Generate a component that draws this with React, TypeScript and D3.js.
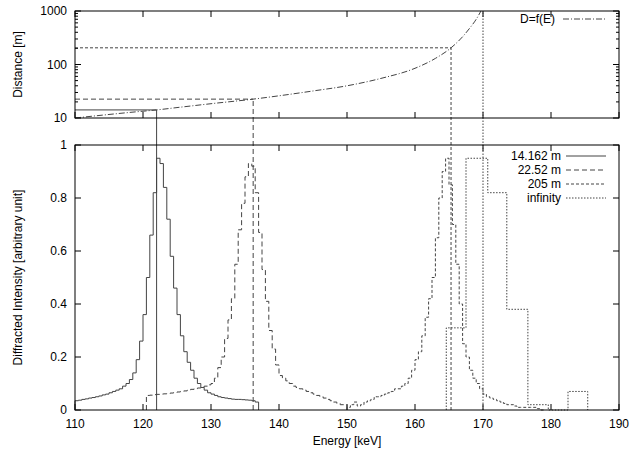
import * as d3 from "d3";
import React from "react";

// histogram series: start energy, bin width 0.5 keV, values
const s1Start = 110;
const s1 = [0.035,0.037,0.04,0.042,0.045,0.047,0.05,0.053,0.057,0.06,0.065,0.07,0.075,0.08,0.09,0.1,0.115,0.14,0.19,0.26,0.36,0.5,0.66,0.82,0.95,0.93,0.84,0.72,0.58,0.46,0.36,0.28,0.22,0.18,0.15,0.12,0.1,0.085,0.075,0.065,0.06,0.055,0.05,0.047,0.045,0.043,0.041,0.04,0.04,0.039,0.038,0.037,0.035,0.03];
const s2Start = 120.5;
const s2 = [0.055,0.056,0.058,0.059,0.06,0.061,0.062,0.064,0.066,0.068,0.07,0.072,0.075,0.078,0.08,0.083,0.086,0.09,0.095,0.1,0.12,0.16,0.2,0.27,0.34,0.42,0.55,0.68,0.78,0.88,0.93,0.92,0.82,0.67,0.53,0.41,0.3,0.23,0.17,0.13,0.12,0.11,0.1,0.09,0.085,0.08,0.075,0.07,0.065,0.06,0.055,0.05,0.045,0.04,0.035,0.03,0.025,0.02,0.02];
const s3Start = 150;
const s3 = [0.01,0.02,0.03,0.015,0.02,0.03,0.035,0.04,0.05,0.05,0.055,0.06,0.065,0.07,0.08,0.08,0.09,0.1,0.12,0.15,0.19,0.22,0.28,0.35,0.42,0.5,0.65,0.8,0.9,0.95,0.85,0.7,0.55,0.4,0.25,0.2,0.15,0.12,0.1,0.08,0.06,0.05,0.045,0.04,0.035,0.03,0.025,0.02,0.02,0.015,0.01,0.01,0.01,0.01,0.01,0.01,0.005,0];
const infEdges = [164.6, 167.5, 170.7, 173.5, 176.6, 179.6, 182.5, 185.4];
const infValues = [0.31, 0.95, 0.82, 0.38, 0.02, 0, 0.07];

// D=f(E) curve, read points
const curve: [number, number][] = [[110,10],[114,11.3],[118,12.7],[122,14.162],[126,16.2],[130,18.5],[136.2,22.52],[140,26],[145,32],[150,40],[155,55],[160,85],[163,130],[165.3,205],[167,330],[168,470],[169,700],[169.7,1000]];

const markers = [
  { e: 122, d: 14.162, dash: "", label: "14.162 m" },
  { e: 136.2, d: 22.52, dash: "5,3", label: "22.52 m" },
  { e: 165.3, d: 205, dash: "3,2", label: "205 m" },
  { e: 170, d: 1000, dash: "1.5,1.5", label: "infinity" },
];

const xTicks = [110,120,130,140,150,160,170,180,190];
const yTicks = [0,0.2,0.4,0.6,0.8,1];
const dTicks = [10,100,1000];

const L = 75, R = 619, T1 = 11, B1 = 118, T2 = 145, B2 = 410;
const font = "Liberation Sans, Arial, sans-serif";
const grey = "#444";

function stepPath(start: number, vals: number[], x: any, y: any) {
  let p = `M${x(start)},${y(0)}`;
  vals.forEach((v, i) => {
    p += `L${x(start + i * 0.5)},${y(v)}L${x(start + (i + 1) * 0.5)},${y(v)}`;
  });
  p += `L${x(start + vals.length * 0.5)},${y(0)}`;
  return p;
}

export default function App() {
  const x = d3.scaleLinear().domain([110, 190]).range([L, R]);
  const y = d3.scaleLinear().domain([0, 1]).range([B2, T2]);
  const yd = d3.scaleLog().domain([10, 1000]).range([B1, T1]);

  let infPath = `M${x(infEdges[0])},${y(0)}`;
  infValues.forEach((v, i) => {
    infPath += `L${x(infEdges[i])},${y(v)}L${x(infEdges[i + 1])},${y(v)}`;
  });
  infPath += `L${x(infEdges[infEdges.length - 1])},${y(0)}`;

  const curvePath = d3.line<[number, number]>().x((d) => x(d[0])).y((d) => yd(d[1])).curve(d3.curveMonotoneX)(curve)!;

  const minor: number[] = [];
  [10, 100].forEach((b) => { for (let k = 2; k < 10; k++) minor.push(b * k); });

  const series = [
    { d: stepPath(s1Start, s1, x, y), dash: "" },
    { d: stepPath(s2Start, s2, x, y), dash: "5,3" },
    { d: stepPath(s3Start, s3, x, y), dash: "3,2" },
    { d: infPath, dash: "1.5,1.5" },
  ];

  return (
    <svg width={640} height={453} style={{ position: "absolute", left: 0, top: 0, background: "#fff" }} fontFamily={font} fontSize={12}>
      <rect width={640} height={453} fill="#fff" />
      <g stroke="#000" strokeWidth={1}>
        {xTicks.map((t) => (
          <g key={t}>
            <line x1={x(t)} x2={x(t)} y1={B1} y2={B1 - 6} />
            <line x1={x(t)} x2={x(t)} y1={T1} y2={T1 + 6} />
            <line x1={x(t)} x2={x(t)} y1={B2} y2={B2 - 6} />
            <line x1={x(t)} x2={x(t)} y1={T2} y2={T2 + 6} />
          </g>
        ))}
        {dTicks.map((t) => (
          <g key={t}>
            <line x1={L} x2={L + 6} y1={yd(t)} y2={yd(t)} />
            <line x1={R} x2={R - 6} y1={yd(t)} y2={yd(t)} />
          </g>
        ))}
        {minor.map((t) => (
          <g key={t}>
            <line x1={L} x2={L + 3} y1={yd(t)} y2={yd(t)} />
            <line x1={R} x2={R - 3} y1={yd(t)} y2={yd(t)} />
          </g>
        ))}
        {yTicks.map((t) => (
          <g key={t}>
            <line x1={L} x2={L + 6} y1={y(t)} y2={y(t)} />
            <line x1={R} x2={R - 6} y1={y(t)} y2={y(t)} />
          </g>
        ))}
      </g>
      {dTicks.map((t) => (
        <text key={t} x={L - 8} y={yd(t) + 4} textAnchor="end">{t}</text>
      ))}
      {yTicks.map((t) => (
        <text key={t} x={L - 8} y={y(t) + 4} textAnchor="end">{t}</text>
      ))}
      {xTicks.map((t) => (
        <text key={t} x={x(t)} y={B2 + 18} textAnchor="middle">{t}</text>
      ))}
      <text transform={`translate(22,${(T1 + B1) / 2}) rotate(-90)`} textAnchor="middle">Distance [m]</text>
      <text transform={`translate(22,${(T2 + B2) / 2}) rotate(-90)`} textAnchor="middle">Diffracted Intensity [arbitrary unit]</text>
      <text x={(L + R) / 2} y={445} textAnchor="middle">Energy [keV]</text>

      {markers.map((m) => (
        <g key={m.label} stroke={grey} strokeWidth={1} strokeDasharray={m.dash} fill="none">
          <line x1={x(m.e)} x2={x(m.e)} y1={B2} y2={yd(m.d)} />
          {m.d < 1000 && <line x1={L} x2={x(m.e)} y1={yd(m.d)} y2={yd(m.d)} />}
        </g>
      ))}
      <path d={curvePath} fill="none" stroke={grey} strokeDasharray="6,2,1,2" />
      <text x={555} y={23} textAnchor="end">D=f(E)</text>
      <line x1={563} x2={606} y1={19} y2={19} stroke={grey} strokeDasharray="6,2,1,2" />

      {series.map((s, i) => (
        <path key={i} d={s.d} fill="none" stroke={grey} strokeDasharray={s.dash} />
      ))}
      {markers.map((m, i) => (
        <g key={m.label}>
          <text x={561} y={160 + i * 14} textAnchor="end">{m.label}</text>
          <line x1={566} x2={606} y1={156 + i * 14} y2={156 + i * 14} stroke={grey} strokeDasharray={m.dash} />
        </g>
      ))}

      <rect x={L} y={T1} width={R - L} height={B1 - T1} fill="none" stroke="#000" />
      <rect x={L} y={T2} width={R - L} height={B2 - T2} fill="none" stroke="#000" />
    </svg>
  );
}
